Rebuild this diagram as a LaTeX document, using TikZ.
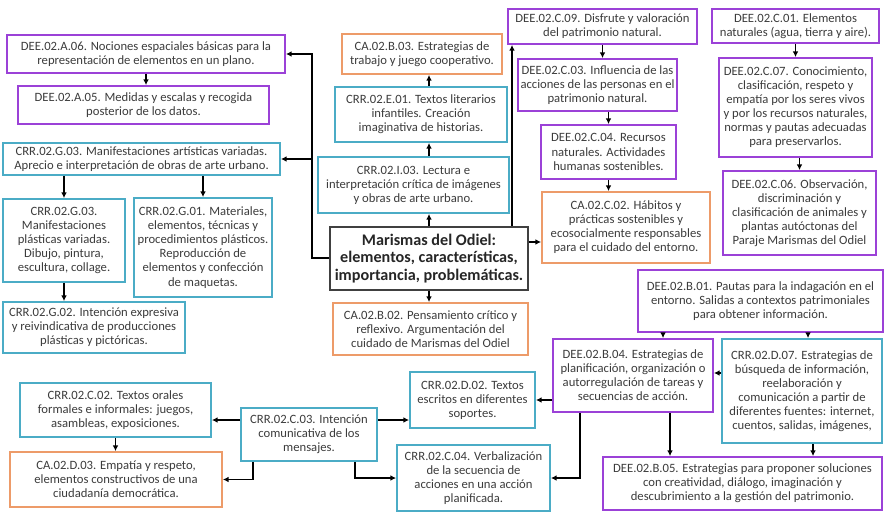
\documentclass[tikz,border=0pt]{standalone}
\usepackage{fontspec}
\setmainfont{Carlito}
\usepackage{xcolor}
\usetikzlibrary{arrows.meta}
\usetikzlibrary{calc}
\tikzset{>=latex}

\definecolor{dee}{RGB}{155,65,215}
\definecolor{crr}{RGB}{75,172,198}
\definecolor{ca}{RGB}{237,155,105}
\definecolor{core}{RGB}{64,64,64}
\definecolor{txt}{RGB}{60,60,60}

\begin{document}
\begin{tikzpicture}[
        x=0.025cm, y=-0.025cm,
        box/.style={draw, line width=1.3pt, fill=white, align=center, inner sep=0pt,
            text=txt, font=\fontsize{9}{10}\selectfont},
        deebox/.style={box, draw=dee},
        crrbox/.style={box, draw=crr},
        cabox/.style={box, draw=ca},
        corebox/.style={box, draw=core, line width=1.6pt, text=black!85,
            font=\bfseries\fontsize{11.5}{12.5}\selectfont},
        link/.style={draw, line width=1.1pt, -{Latex[length=4pt,width=4pt]}}
    ]

    \useasboundingbox (0,0) rectangle (885,512);

    %=== Macro to place a box ===%
    % #1 = node name
    % #2 = style (deebox, crrbox, cabox, corebox)
    % #3, #4 = centre (px)
    % #5, #6 = width and height (px)
    % #7 = text
    \newcommand{\skill}[7]{
        \pgfmathsetmacro{\bw}{#5*0.025}
        \pgfmathsetmacro{\bh}{#6*0.025}
        \node[#2, minimum width=\bw cm, minimum height=\bh cm] (#1) at (#3,#4) {#7};
    }

    %=== Centre ===%
    \skill{main}{corebox}{429}{258.5}{198}{63}{Marismas del Odiel:\\elementos, características,\\importancia, problemáticas.}

    \skill{i03}{crrbox}{413.5}{185}{191}{56}{CRR.02.I.03. Lectura e\\interpretación crítica de imágenes\\y obras de arte urbano.}
    \skill{e01}{crrbox}{421}{114.5}{172}{55}{CRR.02.E.01. Textos literarios\\infantiles. Creación\\imaginativa de historias.}
    \skill{b03}{cabox}{422}{54}{160}{40}{CA.02.B.03. Estrategias de\\trabajo y juego cooperativo.}
    \skill{b02}{cabox}{430.5}{329}{195}{52}{CA.02.B.02. Pensamiento crítico y\\reflexivo. Argumentación del\\cuidado de Marismas del Odiel}

    %=== Left column ===%
    \skill{a06}{deebox}{146}{54}{278}{38}{DEE.02.A.06. Nociones espaciales básicas para la\\representación de elementos en un plano.}
    \skill{a05}{deebox}{143.5}{105}{251}{38}{DEE.02.A.05. Medidas y escalas y recogida\\posterior de los datos.}
    \skill{g03a}{crrbox}{141.5}{159}{277}{32}{CRR.02.G.03. Manifestaciones artísticas variadas.\\Aprecio e interpretación de obras de arte urbano.}
    \skill{g03b}{crrbox}{64}{240.5}{122}{83}{CRR.02.G.03.\\Manifestaciones\\plásticas variadas.\\Dibujo, pintura,\\escultura, collage.}
    \skill{g01}{crrbox}{203}{247.5}{138}{99}{CRR.02.G.01. Materiales,\\elementos, técnicas y\\procedimientos plásticos.\\Reproducción de\\elementos y confección\\de maquetas.}
    \skill{g02}{crrbox}{94}{327.5}{182}{51}{CRR.02.G.02. Intención expresiva\\y reivindicativa de producciones\\plásticas y pictóricas.}

    %=== Right columns ===%
    \skill{c09}{deebox}{602.5}{26.5}{189}{35}{DEE.02.C.09. Disfrute y valoración\\del patrimonio natural.}
    \skill{c03}{deebox}{597.5}{85}{159}{52}{DEE.02.C.03. Influencia de las\\acciones de las personas en el\\patrimonio natural.}
    \skill{c04}{deebox}{608.5}{152}{135}{54}{DEE.02.C.04. Recursos\\naturales. Actividades\\humanas sostenibles.}
    \skill{cc02}{cabox}{626}{227.5}{168}{71}{CA.02.C.02. Hábitos y\\prácticas sostenibles y\\ecosocialmente responsables\\para el cuidado del entorno.}
    \skill{c01}{deebox}{795.5}{26}{167}{34}{DEE.02.C.01. Elementos\\naturales (agua, tierra y aire).}
    \skill{c07}{deebox}{795.5}{107.5}{153}{99}{DEE.02.C.07. Conocimiento,\\clasificación, respeto y\\empatía por los seres vivos\\y por los recursos naturales,\\normas y pautas adecuadas\\para preservarlos.}
    \skill{c06}{deebox}{799.5}{213}{153}{84}{DEE.02.C.06. Observación,\\discriminación y\\clasificación de animales y\\plantas autóctonas del\\Paraje Marismas del Odiel}

    %=== Bottom ===%
    \skill{b01}{deebox}{760.5}{301}{245}{62}{DEE.02.B.01. Pautas para la indagación en el\\entorno. Salidas a contextos patrimoniales\\para obtener información.}
    \skill{b04}{deebox}{633}{375.5}{160}{73}{DEE.02.B.04. Estrategias de\\planificación, organización o\\autorregulación de tareas y\\secuencias de acción.}
    \skill{d07}{crrbox}{802}{391}{160}{104}{CRR.02.D.07. Estrategias de\\búsqueda de información,\\reelaboración y\\comunicación a partir de\\diferentes fuentes: internet,\\cuentos, salidas, imágenes,}
    \skill{d02}{crrbox}{472.5}{400}{125}{56}{CRR.02.D.02. Textos\\escritos en diferentes\\soportes.}
    \skill{cc04}{crrbox}{473.5}{478}{153}{66}{CRR.02.C.04. Verbalización\\de la secuencia de\\acciones en una acción\\planificada.}
    \skill{b05}{deebox}{742.5}{483.5}{279}{53}{DEE.02.B.05. Estrategias para proponer soluciones\\con creatividad, diálogo, imaginación y\\descubrimiento a la gestión del patrimonio.}
    \skill{cr02}{crrbox}{115.5}{410}{191}{54}{CRR.02.C.02. Textos orales\\formales e informales: juegos,\\asambleas, exposiciones.}
    \skill{d03}{cabox}{116}{479.5}{212}{55}{CA.02.D.03. Empatía y respeto,\\elementos constructivos de una\\ciudadanía democrática.}
    \skill{cr03}{crrbox}{309}{434.5}{136}{53}{CRR.02.C.03. Intención\\comunicativa de los\\mensajes.}

    %=== Connectors ===%
    % centre outwards
    \coordinate (spine) at (312,258);
    \draw[link] (main.west |- spine) -- (spine) |- (a06.east);
    \draw[link] (spine |- g03a.east) -- (g03a.east);
    \draw[link] (main.north) -- (main.north |- i03.south);
    \draw[link] (i03.north -| 429,0) -- (429,0 |- e01.south);
    \draw[link] (e01.north -| 429,0) -- (429,0 |- b03.south);
    \draw[link] (main.south) -- (main.south |- b02.north);
    \draw[link] (main.east |- 0,242) -- (cc02.west |- 0,242);
    \draw[link] (main.north -| 512,0) -- (512,0 |- c09.south);

    % left column
    \draw[link] (a06.south) -- (a06.south |- a05.north);
    \draw[link] (g03a.south -| g03b.north) -- (g03b.north);
    \draw[link] (g03a.south -| g01.north) -- (g01.north);
    \draw[link] (g03b.south) -- (g03b.south |- g02.north);

    % right columns
    \draw[link] (c09.south) -- (c09.south |- c03.north);
    \draw[link] (c03.south -| c04.north) -- (c04.north);
    \draw[link] (c04.south) -- (c04.south |- cc02.north);
    \draw[link] (c01.south) -- (c01.south |- c07.north);
    \draw[link] (c07.south -| c06.north) -- (c06.north);

    % bottom
    \draw[link] (b01.south -| 663,0) -- (663,0 |- b04.north);
    \draw[link] (b01.south -| 808,0) -- (808,0 |- d07.north);
    \draw[link] (d07.west |- 0,373) -- (b04.east |- 0,373);
    \draw[link] (b04.west |- d02.east) -- (d02.east);
    \draw[link] (b04.south -| 580,0) |- (cc04.east);
    \draw[link] (b04.south -| 670,0) -- (670,0 |- b05.north);
    \draw[link] (d07.south -| 813,0) -- (813,0 |- b05.north);
    \draw[link] (cr03.west |- 0,420) -- (cr02.east |- 0,420);
    \draw[link] (cr02.south) -- (cr02.south |- d03.north);
    \draw[link] (cr03.south -| 253,0) |- (d03.east);
    \draw[link] (cr03.east |- 0,420) -- (d02.west |- 0,420);
    \draw[link] (cr03.south -| 355,0) |- (cc04.west);

\end{tikzpicture}
\end{document}
